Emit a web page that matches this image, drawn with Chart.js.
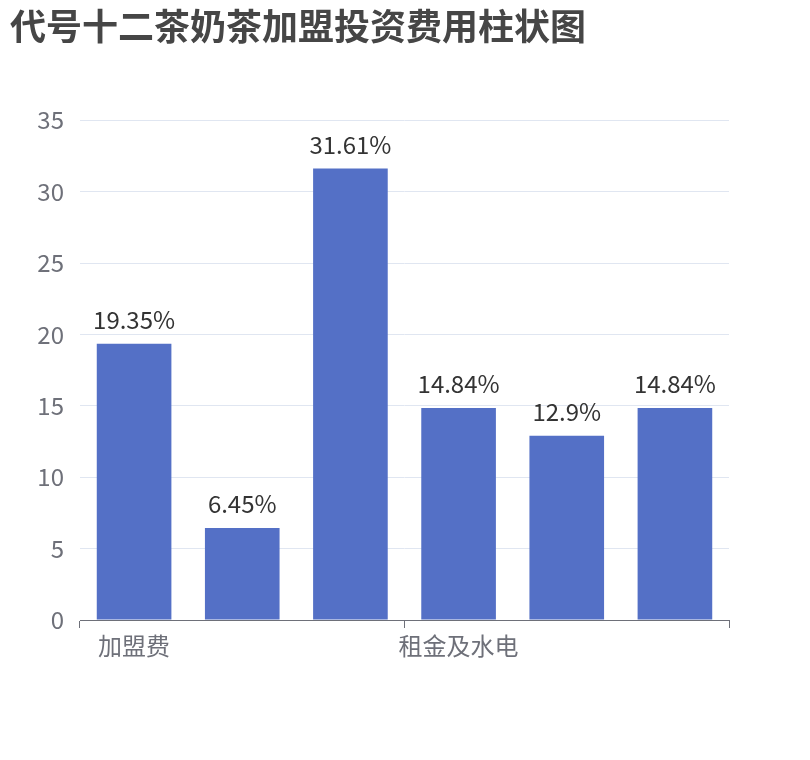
<!DOCTYPE html>
<html>
<head>
<meta charset="utf-8">
<script src="https://cdn.jsdelivr.net/npm/chart.js@4/dist/chart.umd.min.js"></script>
<style>
  html, body { margin: 0; padding: 0; background: #fff; }
  #wrap { width: 810px; height: 760px; position: relative; }
</style>
</head>
<body>
<div id="wrap"><canvas id="barChart"></canvas></div>
<script>
// chart data
var categories = ['加盟费', '保证金', '装修费', '租金及水电', '设备费', '其他费用'];
var shares = [19.35, 6.45, 31.61, 14.84, 12.9, 14.84];
var shownLabels = [0, 3]; // only these category names are printed under the axis
var yTicks = [0, 5, 10, 15, 20, 25, 30, 35];

var fontFamily = '"Noto Sans CJK SC", "Noto Sans", sans-serif';
var axisColor = '#6e7079';

// draws "xx%" above each bar
var barLabels = {
    id: 'barLabels',
    afterDatasetsDraw: function (chart) {
        var ctx = chart.ctx;
        var meta = chart.getDatasetMeta(0);
        ctx.save();
        ctx.font = '24px ' + fontFamily;
        ctx.fillStyle = '#333';
        ctx.textAlign = 'center';
        ctx.textBaseline = 'alphabetic';
        meta.data.forEach(function (bar, i) {
            ctx.fillText(shares[i] + '%', bar.x, bar.y - 15);
        });
        ctx.restore();
    }
};

document.addEventListener('DOMContentLoaded', function () {
    var ctx = document.getElementById('barChart').getContext('2d');
    new Chart(ctx, {
        type: 'bar',
        data: {
            labels: categories,
            datasets: [{
                data: shares,
                backgroundColor: '#5470c6',
                categoryPercentage: 1,
                barPercentage: 0.69
            }]
        },
        options: {
            responsive: true,
            maintainAspectRatio: false,
            animation: false,
            layout: { padding: { left: 10, right: 81, top: 0, bottom: 0 } },
            plugins: {
                legend: { display: false },
                tooltip: { enabled: false },
                title: {
                    display: true,
                    text: '代号十二茶奶茶加盟投资费用柱状图',
                    align: 'start',
                    color: '#464646',
                    font: { family: fontFamily, size: 36, weight: 'bold' },
                    padding: { top: 5, bottom: 72 }
                }
            },
            scales: {
                x: {
                    offset: true,
                    grid: {
                        offset: true,
                        drawOnChartArea: false,
                        tickLength: 8,
                        lineWidth: 1,
                        color: function (c) {
                            if (c.index === undefined || c.index % 3 === 0) return axisColor;
                            return 'rgba(0,0,0,0)';
                        }
                    },
                    border: { display: true, color: axisColor, width: 1 },
                    ticks: {
                        autoSkip: false,
                        maxRotation: 0,
                        padding: 3,
                        color: axisColor,
                        font: { family: fontFamily, size: 24 },
                        callback: function (val, i) {
                            return shownLabels.indexOf(i) >= 0 ? categories[i] : '';
                        }
                    },
                    afterFit: function (scale) { scale.height = 140; }
                },
                y: {
                    min: 0,
                    max: 35,
                    afterBuildTicks: function (scale) {
                        scale.ticks = yTicks.map(function (v) { return { value: v }; });
                    },
                    grid: { color: '#e0e6f1', drawTicks: false },
                    border: { display: false },
                    ticks: {
                        padding: 16,
                        color: axisColor,
                        font: { family: fontFamily, size: 24 }
                    },
                    afterFit: function (scale) { scale.width = 70; }
                }
            }
        },
        plugins: [barLabels]
    });
});
</script>
</body>
</html>
